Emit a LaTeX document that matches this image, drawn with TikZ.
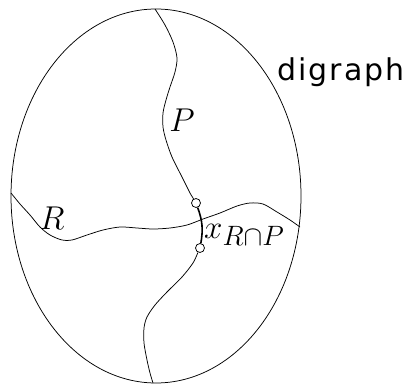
\documentclass[tikz,border=0pt]{standalone}
\usepackage{fix-cm}
\usepackage{fontspec}
\newfontfamily\sanslabel[LetterSpace=7]{DejaVu Sans}

\begin{document}
\begin{tikzpicture}[x=1pt,y=-1pt,
		curve/.style={line width=0.75pt},
		endpt/.style={draw,circle,inner sep=0pt,minimum size=9pt,line width=0.75pt},
		lbl/.style={font=\fontsize{33}{40}\selectfont,inner sep=0pt}]
	\useasboundingbox (0,0) rectangle (417,383);
	\draw[curve] (156,196) ellipse [x radius=145pt, y radius=187pt];
	\node[endpt] (xtop) at (196,203) {};
	\node[endpt] (xbot) at (200,248) {};
	\draw[line width=1.6pt] (xtop) to[bend left=15] (xbot);
	\draw[curve] plot[smooth] coordinates {(155,9) (165,25) (173,42) (177,58) (175,72) (170,87)
		(166,100) (163,113) (163,127) (166,140) (172,157) (182,177) (190,193) (xtop.120)};
	\draw[curve] plot[smooth] coordinates {(xbot.-115) (193,263) (182,277) (167,292) (155,305)
		(147,317) (144,328) (144,343) (147,360) (150,373) (153,383)};
	\draw[curve] plot[smooth] coordinates {(11,193) (20,204) (30,215) (40,227) (50,235) (62,240)
		(72,240) (87,235) (103,230) (120,227) (137,228) (153,229) (170,228) (187,225) (203,219)
		(220,213) (237,206) (250,203) (263,204) (277,212) (290,220) (300,227)};
	\node[lbl] (plabel) at (182,120) {$P$};
	\node[lbl] (rlabel) at (52,218) {$R$};
	\node[lbl,anchor=base west] (xlabel) at (204,238) {$x_{\mbox{\fontsize{28}{30}\selectfont$R{\cap}P$}}$};
	\node[font=\sanslabel\fontsize{30}{36}\selectfont,anchor=base west,inner sep=0pt] (dlabel) at (277,80) {digraph};
\end{tikzpicture}
\end{document}
